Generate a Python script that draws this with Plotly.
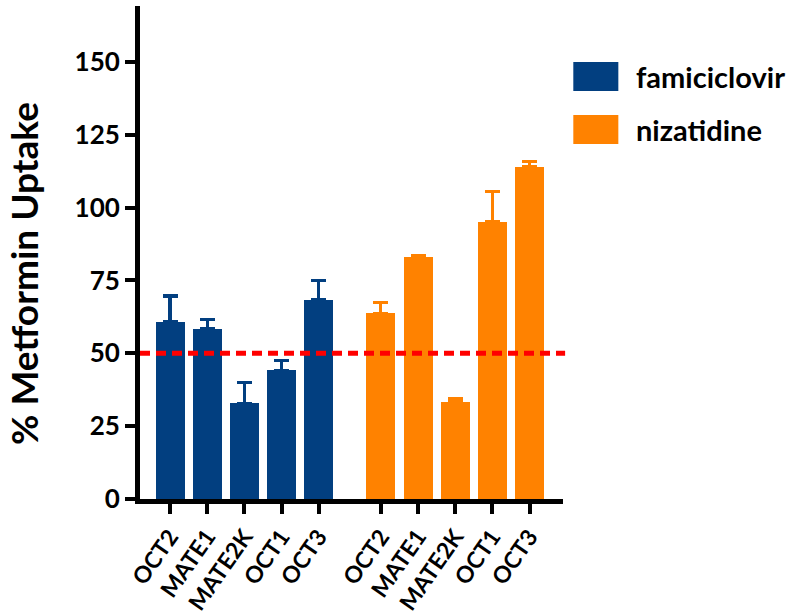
import plotly.graph_objects as go

# Transporters tested for each inhibitor
transporters = ["OCT2", "MATE1", "MATE2K", "OCT1", "OCT3"]

# % metformin uptake (mean) and upper error-bar end for each drug
famciclovir_mean = [60.8, 58.4, 32.9, 44.2, 68.4]
famciclovir_upper = [69.7, 61.6, 40.0, 47.4, 74.9]
nizatidine_mean = [63.7, 82.9, 33.3, 95.2, 114.0]
nizatidine_upper = [67.5, 83.7, 34.5, 105.5, 115.7]

threshold = 50
y_ticks = [0, 25, 50, 75, 100, 125, 150]

BLUE = "#023F80"
ORANGE = "#FF8200"
FONT = "Lato"

# category positions: second group shifted to leave a gap between drugs
group_gap = 5.675
x_fam = [i for i in range(len(transporters))]
x_niz = [i + group_gap for i in range(len(transporters))]

fig = go.Figure()


def add_group(xs, mean, upper, color, name):
    fig.add_trace(go.Bar(
        x=xs, y=mean, name=name, width=0.78,
        marker=dict(color=color, line=dict(width=0)),
        error_y=dict(type="data", symmetric=False,
                     array=[u - m for u, m in zip(upper, mean)],
                     arrayminus=[0] * len(mean),
                     color=color, thickness=3.2, width=7.5),
        showlegend=False,
    ))


add_group(x_fam, famciclovir_mean, famciclovir_upper, BLUE, "famiciclovir")
add_group(x_niz, nizatidine_mean, nizatidine_upper, ORANGE, "nizatidine")

# 50 % reference line
fig.add_shape(type="line", xref="paper", yref="y", x0=0, x1=1.005,
              y0=threshold, y1=threshold,
              line=dict(color="#FF0000", width=5, dash="10px,6px"))

# pixel helpers for placing legend and axis title in paper space
plot_l, plot_r, plot_t, plot_b = 140, 562.7, 6, 499
pw, ph = plot_r - plot_l, plot_b - plot_t


def px_x(px):
    return (px - plot_l) / pw


def px_y(py):
    return (plot_b - py) / ph


# legend: swatches + labels at the right of the plot
legend_items = [("famiciclovir", BLUE, 62, 91), ("nizatidine", ORANGE, 115, 144)]
for label, color, top, bottom in legend_items:
    fig.add_shape(type="rect", xref="paper", yref="paper",
                  x0=px_x(573), x1=px_x(618), y0=px_y(bottom), y1=px_y(top),
                  fillcolor=color, line=dict(width=0))
    fig.add_annotation(xref="paper", yref="paper", x=px_x(634),
                       y=px_y((top + bottom) / 2), text=label, showarrow=False,
                       xanchor="left", yanchor="middle",
                       font=dict(family=FONT, size=29, color="black", weight="bold"))

# y-axis title
fig.add_annotation(xref="paper", yref="paper", x=px_x(23), y=px_y(273),
                   text="% Metformin Uptake", textangle=-90, showarrow=False,
                   xanchor="center", yanchor="middle",
                   font=dict(family=FONT, size=37, color="black", weight="bold"))

fig.update_layout(
    width=790, height=616,
    margin=dict(l=plot_l, r=790 - plot_r, t=plot_t, b=616 - plot_b, pad=0),
    plot_bgcolor="white", paper_bgcolor="white",
    bargap=0, font=dict(family=FONT, color="black"),
)

fig.update_xaxes(
    range=[-0.808, 10.576], tickvals=x_fam + x_niz, ticktext=transporters * 2,
    tickangle=-55, ticks="outside", ticklen=10, tickwidth=4, tickcolor="black",
    showline=True, linewidth=5, linecolor="black", showgrid=False, zeroline=False,
    automargin=False,
    tickfont=dict(family=FONT, size=23, color="black", weight="bold"),
)
fig.update_yaxes(
    range=[0, 169.2], tickvals=y_ticks, ticks="outside", ticklen=10, tickwidth=4,
    tickcolor="black", showline=True, linewidth=5, linecolor="black",
    showgrid=False, zeroline=False, automargin=False,
    tickfont=dict(family=FONT, size=26, color="black", weight="bold"),
)

fig.write_html("out.html")
